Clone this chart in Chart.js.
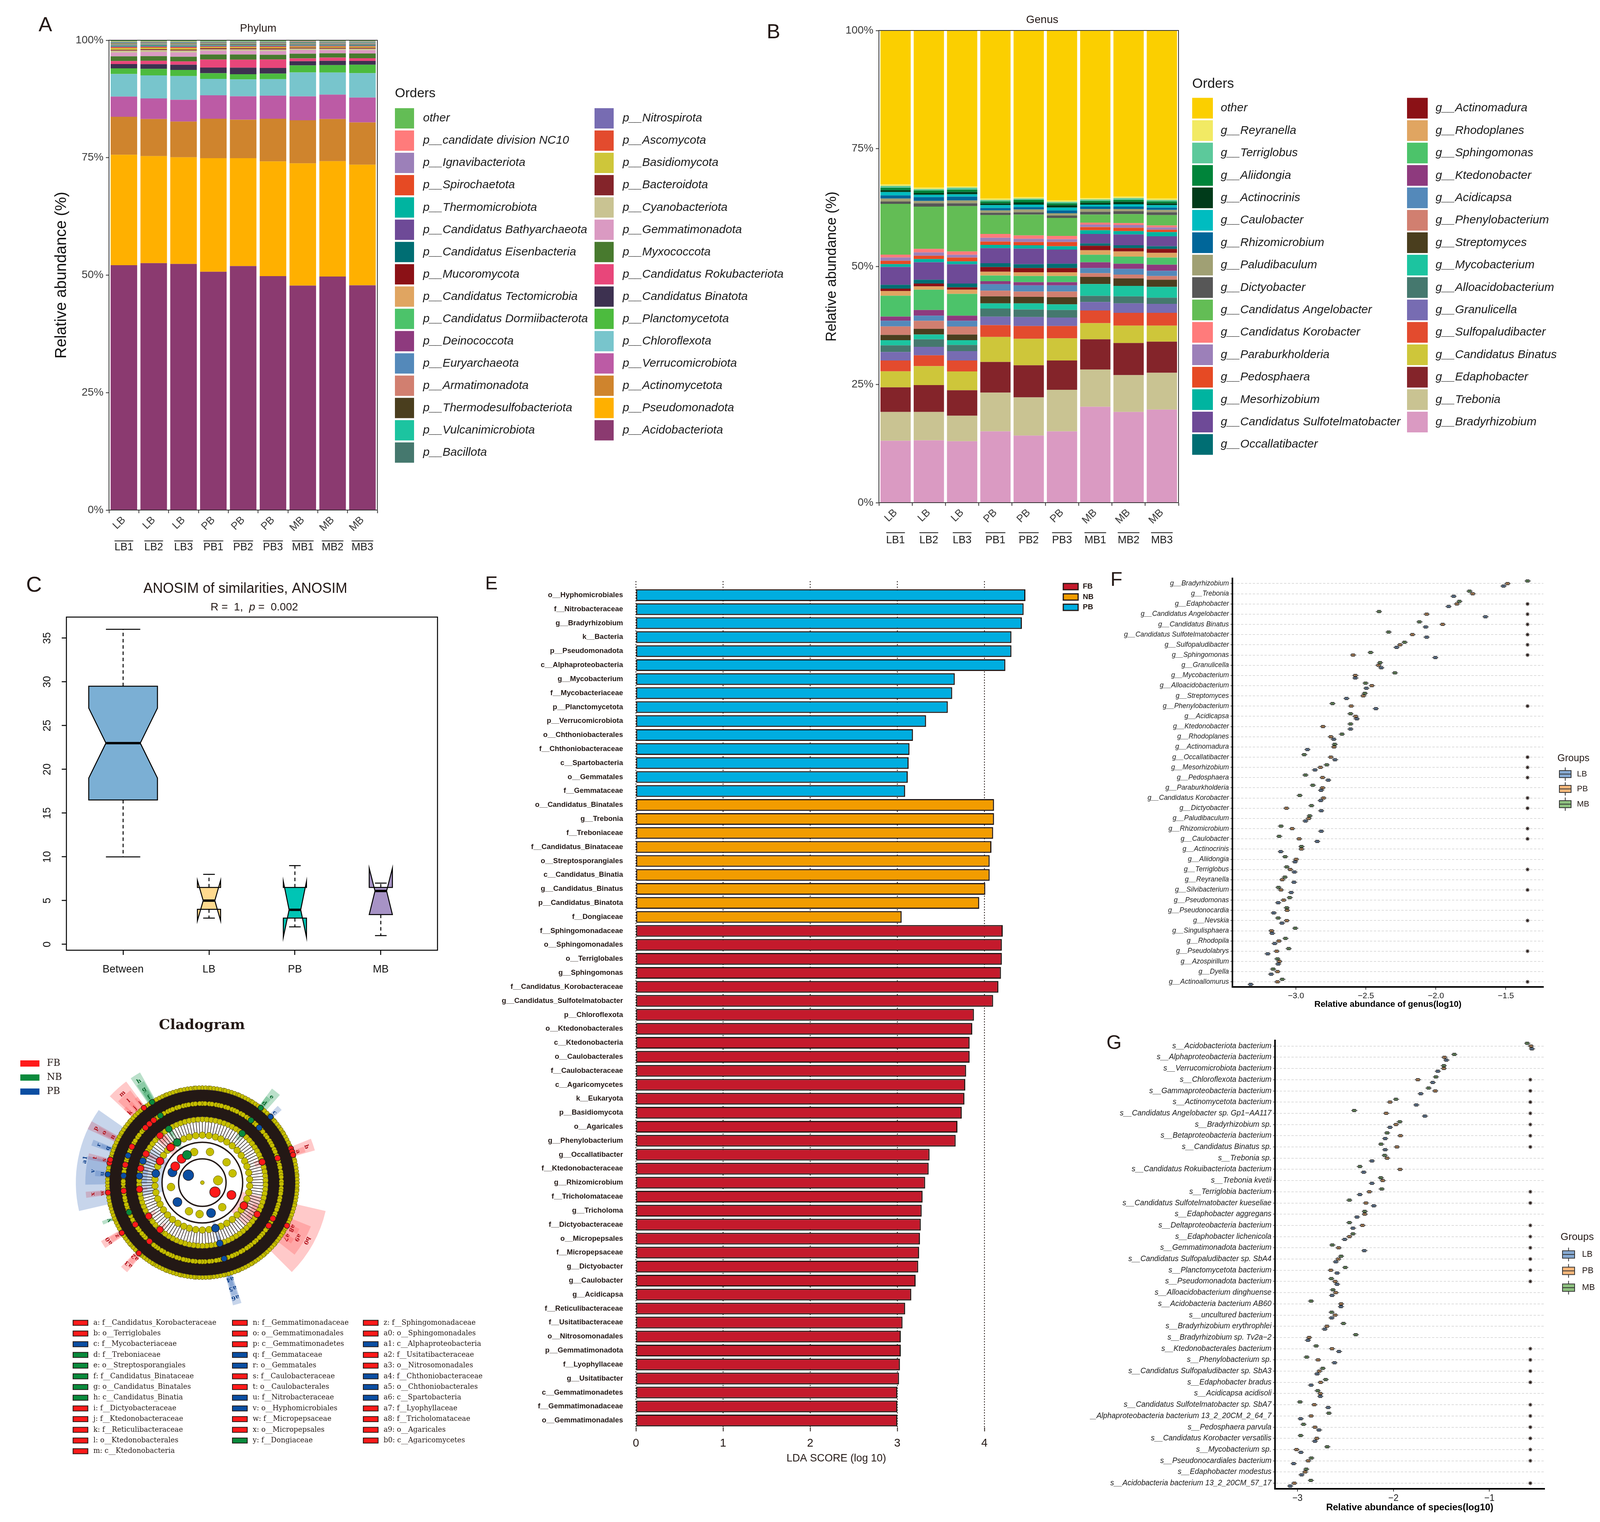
<!DOCTYPE html>
<html>
<head>
<meta charset="utf-8">
<title>Soil microbial community composition</title>
<script src="https://cdn.jsdelivr.net/npm/chart.js@4.4.1/dist/chart.umd.min.js"></script>
<style>
  html, body { margin: 0; padding: 0; background: #ffffff; }
  body { position: relative; width: 4107px; height: 3897px; overflow: hidden; }
  canvas { position: absolute; }
</style>
</head>
<body>
<canvas id="chartA" width="2060" height="1480" style="left:0px;top:0px"></canvas>
<canvas id="chartB" width="2147" height="1480" style="left:1960px;top:0px"></canvas>
<canvas id="chartC" width="1180" height="1100" style="left:0px;top:1440px"></canvas>
<canvas id="chartD" width="1230" height="1200" style="left:40px;top:2560px"></canvas>
<canvas id="chartE" width="1600" height="2320" style="left:1240px;top:1460px"></canvas>
<canvas id="chartF" width="1267" height="1200" style="left:2840px;top:1440px"></canvas>
<canvas id="chartG" width="1317" height="1277" style="left:2790px;top:2620px"></canvas>
<script>
// ---------- samples ----------
const sampleNames = ['LB1', 'LB2', 'LB3', 'PB1', 'PB2', 'PB3', 'MB1', 'MB2', 'MB3'];
const sampleGroups = ['LB', 'LB', 'LB', 'PB', 'PB', 'PB', 'MB', 'MB', 'MB'];

// ---------- A: phylum composition (legend order, top of stack first) ----------
const phylumNames = ['other', 'p__candidate division NC10', 'p__Ignavibacteriota', 'p__Spirochaetota',
  'p__Thermomicrobiota', 'p__Candidatus Bathyarchaeota', 'p__Candidatus Eisenbacteria', 'p__Mucoromycota',
  'p__Candidatus Tectomicrobia', 'p__Candidatus Dormiibacterota', 'p__Deinococcota', 'p__Euryarchaeota',
  'p__Armatimonadota', 'p__Thermodesulfobacteriota', 'p__Vulcanimicrobiota', 'p__Bacillota',
  'p__Nitrospirota', 'p__Ascomycota', 'p__Basidiomycota', 'p__Bacteroidota', 'p__Cyanobacteriota',
  'p__Gemmatimonadota', 'p__Myxococcota', 'p__Candidatus Rokubacteriota', 'p__Candidatus Binatota',
  'p__Planctomycetota', 'p__Chloroflexota', 'p__Verrucomicrobiota', 'p__Actinomycetota',
  'p__Pseudomonadota', 'p__Acidobacteriota'];
const phylumColors = ['#63BD55', '#FF7B7B', '#9C80B9', '#E64A24', '#00B4A0', '#6E4A97', '#006E73', '#8B1116',
  '#E0A561', '#4CC36A', '#8E3A7E', '#5489BA', '#D17F70', '#4A3E1E', '#1CC4A0', '#45786E', '#776CB2',
  '#E34B2E', '#CEC63A', '#84242A', '#C9C392', '#DA9AC2', '#487A2E', '#E8467A', '#3D3150', '#4CBB3E',
  '#78C5CC', '#BC5BA5', '#CF842D', '#FFB000', '#8B3A70'];
const phylumValues = [
  [0.30, 0.25, 0.30, 0.25, 0.25, 0.25, 0.20, 0.22, 0.22],
  [0.06, 0.06, 0.06, 0.05, 0.05, 0.05, 0.05, 0.05, 0.05],
  [0.04, 0.04, 0.04, 0.04, 0.04, 0.04, 0.04, 0.04, 0.04],
  [0.04, 0.04, 0.04, 0.04, 0.04, 0.04, 0.04, 0.04, 0.04],
  [0.06, 0.06, 0.06, 0.05, 0.05, 0.05, 0.05, 0.05, 0.05],
  [0.05, 0.05, 0.05, 0.04, 0.04, 0.04, 0.04, 0.04, 0.04],
  [0.07, 0.07, 0.07, 0.08, 0.08, 0.08, 0.07, 0.07, 0.07],
  [0.05, 0.05, 0.05, 0.05, 0.05, 0.05, 0.04, 0.04, 0.04],
  [0.07, 0.07, 0.07, 0.06, 0.06, 0.06, 0.06, 0.06, 0.06],
  [0.10, 0.10, 0.10, 0.08, 0.08, 0.08, 0.08, 0.08, 0.08],
  [0.05, 0.05, 0.05, 0.05, 0.05, 0.05, 0.05, 0.05, 0.05],
  [0.06, 0.06, 0.06, 0.05, 0.05, 0.05, 0.05, 0.05, 0.05],
  [0.08, 0.08, 0.08, 0.07, 0.07, 0.07, 0.08, 0.08, 0.08],
  [0.10, 0.09, 0.10, 0.12, 0.12, 0.12, 0.10, 0.10, 0.10],
  [0.10, 0.10, 0.10, 0.08, 0.08, 0.08, 0.09, 0.09, 0.09],
  [0.10, 0.10, 0.10, 0.10, 0.10, 0.10, 0.10, 0.09, 0.10],
  [0.15, 0.14, 0.15, 0.12, 0.12, 0.12, 0.10, 0.10, 0.10],
  [0.20, 0.18, 0.20, 0.15, 0.15, 0.16, 0.14, 0.15, 0.14],
  [0.35, 0.30, 0.32, 0.20, 0.22, 0.24, 0.18, 0.20, 0.20],
  [0.20, 0.22, 0.20, 0.25, 0.24, 0.25, 0.22, 0.22, 0.22],
  [0.40, 0.38, 0.42, 0.30, 0.30, 0.32, 0.30, 0.28, 0.30],
  [0.8, 0.9, 0.9, 0.8, 0.8, 0.8, 0.8, 0.7, 0.7],
  [1.0, 1.0, 1.0, 1.1, 1.1, 1.0, 1.0, 0.9, 1.0],
  [0.65, 0.7, 0.7, 1.7, 1.7, 1.8, 0.6, 0.7, 0.6],
  [0.9, 1.0, 1.1, 1.2, 1.4, 1.2, 0.9, 0.9, 0.8],
  [1.2, 1.4, 1.3, 1.2, 1.1, 1.2, 1.5, 1.6, 1.8],
  [4.8, 4.9, 5.05, 3.5, 3.6, 3.5, 5.1, 4.7, 5.2],
  [4.3, 4.4, 4.65, 5.0, 5.0, 4.9, 5.1, 5.2, 5.3],
  [8.1, 7.9, 7.6, 8.4, 8.2, 9.1, 9.2, 9.0, 9.0],
  [23.5, 22.8, 22.7, 24.2, 23.0, 24.4, 26.1, 24.6, 25.7],
  [52.1, 52.6, 52.4, 50.8, 52.0, 49.8, 47.9, 49.8, 47.9]
];

// ---------- B: genus composition (legend order, top of stack first) ----------
const genusNames = ['other', 'g__Reyranella', 'g__Terriglobus', 'g__Aliidongia', 'g__Actinocrinis',
  'g__Caulobacter', 'g__Rhizomicrobium', 'g__Paludibaculum', 'g__Dictyobacter', 'g__Candidatus Angelobacter',
  'g__Candidatus Korobacter', 'g__Paraburkholderia', 'g__Pedosphaera', 'g__Mesorhizobium',
  'g__Candidatus Sulfotelmatobacter', 'g__Occallatibacter', 'g__Actinomadura', 'g__Rhodoplanes',
  'g__Sphingomonas', 'g__Ktedonobacter', 'g__Acidicapsa', 'g__Phenylobacterium', 'g__Streptomyces',
  'g__Mycobacterium', 'g__Alloacidobacterium', 'g__Granulicella', 'g__Sulfopaludibacter',
  'g__Candidatus Binatus', 'g__Edaphobacter', 'g__Trebonia', 'g__Bradyrhizobium'];
const genusColors = ['#FBCF00', '#F2EA64', '#5CC99B', '#00843A', '#003B1A', '#00BCC0', '#006699', '#A0A074',
  '#575757', '#63BD55', '#FF7B7B', '#9C80B9', '#E64A24', '#00B4A0', '#6E4A97', '#006E73', '#8B1116',
  '#E0A561', '#4CC36A', '#8E3A7E', '#5489BA', '#D17F70', '#4A3E1E', '#1CC4A0', '#45786E', '#776CB2',
  '#E34B2E', '#CEC63A', '#84242A', '#C9C392', '#DA9AC2'];
const genusValues = [
  [32.6, 33.3, 33.0, 35.6, 35.3, 36.0, 35.5, 35.2, 35.6],
  [0.3, 0.3, 0.3, 0.3, 0.3, 0.3, 0.3, 0.3, 0.3],
  [0.4, 0.3, 0.4, 0.3, 0.3, 0.3, 0.3, 0.4, 0.3],
  [0.5, 0.5, 0.5, 0.4, 0.5, 0.4, 0.4, 0.4, 0.4],
  [0.4, 0.4, 0.5, 0.4, 0.5, 0.5, 0.4, 0.5, 0.4],
  [0.7, 0.5, 0.5, 0.6, 0.5, 0.6, 0.4, 0.5, 0.5],
  [0.7, 0.8, 0.8, 0.5, 0.5, 0.6, 0.5, 0.5, 0.5],
  [0.6, 0.5, 0.6, 0.5, 0.6, 0.5, 0.6, 0.5, 0.5],
  [0.5, 0.7, 0.6, 0.5, 0.5, 0.5, 0.6, 0.6, 0.6],
  [10.75, 8.95, 9.6, 4.0, 4.4, 3.8, 1.7, 1.9, 2.2],
  [0.6, 0.75, 0.7, 0.8, 0.7, 0.7, 0.4, 0.4, 0.4],
  [0.7, 0.7, 0.6, 0.8, 0.7, 0.6, 0.55, 0.6, 0.5],
  [0.7, 0.7, 0.8, 0.7, 0.7, 0.9, 0.65, 0.7, 0.5],
  [0.6, 0.7, 0.6, 0.7, 0.7, 0.7, 0.8, 0.7, 0.9],
  [3.8, 3.7, 4.1, 3.2, 3.3, 3.0, 2.0, 2.3, 2.1],
  [0.8, 0.8, 0.8, 0.8, 0.8, 0.9, 0.5, 0.6, 0.55],
  [0.5, 0.6, 0.5, 1.0, 0.9, 0.9, 0.95, 0.7, 0.85],
  [1.0, 0.7, 0.9, 0.8, 0.8, 0.8, 0.95, 1.1, 1.0],
  [4.4, 4.3, 4.6, 1.2, 1.3, 1.3, 1.6, 1.5, 1.5],
  [0.9, 1.2, 1.1, 0.65, 0.7, 0.7, 1.2, 1.1, 1.3],
  [1.2, 1.1, 1.2, 1.35, 1.3, 1.3, 1.1, 1.2, 1.1],
  [1.8, 1.7, 1.7, 1.2, 1.1, 1.2, 0.8, 0.8, 0.8],
  [1.1, 1.2, 1.2, 1.5, 1.4, 1.5, 1.5, 1.6, 1.5],
  [1.1, 1.0, 1.0, 1.1, 1.3, 1.2, 2.5, 2.2, 2.3],
  [1.4, 1.6, 1.3, 1.7, 1.6, 1.6, 1.3, 1.5, 1.3],
  [1.8, 1.8, 2.0, 1.8, 1.9, 1.8, 1.8, 2.0, 1.9],
  [2.3, 2.3, 2.3, 2.5, 2.7, 2.6, 2.7, 2.7, 2.7],
  [3.4, 4.0, 4.0, 5.3, 5.6, 4.7, 3.4, 3.7, 3.4],
  [5.2, 5.7, 5.4, 6.5, 6.8, 6.2, 6.4, 6.8, 6.6],
  [6.1, 6.0, 5.4, 8.2, 8.1, 8.8, 7.9, 7.8, 7.8],
  [13.1, 13.2, 13.0, 15.1, 14.2, 15.1, 20.3, 19.2, 19.7]
];

// ---------- C: ANOSIM notched boxplots ----------
const boxGroups = ['Between', 'LB', 'PB', 'MB'];
const boxMin = [10, 3, 2, 1];
const boxQ1 = [16.5, 4, 3, 3.4];
const boxMedian = [23, 5, 3.95, 6.1];
const boxQ3 = [29.5, 6.5, 6.5, 6.5];
const boxMax = [36, 8, 9, 7];
const notchLow = [19, 2.7, 0.8, 3.4];
const notchHigh = [27, 7.3, 7.2, 8.7];
const boxHalfWidth = [0.4, 0.135, 0.135, 0.135];
const boxColors = ['#7BAFD4', '#FFDA8F', '#00C5B5', '#A793C6'];

// ---------- D: LEfSe cladogram ----------
const cladeRankNames = ['root', 'kingdom', 'phylum', 'class', 'order', 'family', 'genus'];
const cladeLetters = ['a', 'b', 'c', 'd', 'e', 'f', 'g', 'h', 'i', 'j', 'k', 'l', 'm', 'n', 'o', 'p', 'q', 'r',
  's', 't', 'u', 'v', 'w', 'x', 'y', 'z', 'a0', 'a1', 'a2', 'a3', 'a4', 'a5', 'a6', 'a7', 'a8', 'a9', 'b0'];
const cladeTaxa = ['f__Candidatus_Korobacteraceae', 'o__Terriglobales', 'f__Mycobacteriaceae', 'f__Treboniaceae',
  'o__Streptosporangiales', 'f__Candidatus_Binataceae', 'o__Candidatus_Binatales', 'c__Candidatus_Binatia',
  'f__Dictyobacteraceae', 'f__Ktedonobacteraceae', 'f__Reticulibacteraceae', 'o__Ktedonobacterales',
  'c__Ktedonobacteria', 'f__Gemmatimonadaceae', 'o__Gemmatimonadales', 'c__Gemmatimonadetes', 'f__Gemmataceae',
  'o__Gemmatales', 'f__Caulobacteraceae', 'o__Caulobacterales', 'f__Nitrobacteraceae', 'o__Hyphomicrobiales',
  'f__Micropepsaceae', 'o__Micropepsales', 'f__Dongiaceae', 'f__Sphingomonadaceae', 'o__Sphingomonadales',
  'c__Alphaproteobacteria', 'f__Usitatibacteraceae', 'o__Nitrosomonadales', 'f__Chthoniobacteraceae',
  'o__Chthoniobacterales', 'c__Spartobacteria', 'f__Lyophyllaceae', 'f__Tricholomataceae', 'o__Agaricales',
  'c__Agaricomycetes'];
const cladeGroups = ['FB', 'FB', 'PB', 'NB', 'NB', 'NB', 'NB', 'NB', 'FB', 'FB', 'FB', 'FB', 'FB', 'FB', 'FB', 'FB',
  'PB', 'PB', 'FB', 'FB', 'PB', 'PB', 'FB', 'FB', 'NB', 'FB', 'FB', 'PB', 'FB', 'FB', 'PB', 'PB', 'PB', 'FB', 'FB',
  'FB', 'FB'];
const cladeRanks = [5, 4, 5, 5, 4, 5, 4, 3, 5, 5, 5, 4, 3, 5, 4, 3, 5, 4, 5, 4, 5, 4, 5, 4, 5, 5, 4, 3, 5, 4, 5, 4, 3,
  5, 5, 4, 3];
const cladeAngles = [72, 71, 46, 38, 39, 328, 328, 328, 322, 318, 314, 318, 318, 297, 297, 297, 290, 290, 283, 283,
  275, 276, 264, 264, 248, 238, 238, 281, 222, 222, 164, 164, 164, 123, 117, 120, 119];
const cladeSpans = [3, 6, 3, 3, 5, 3, 4, 5, 2, 2, 2, 8, 10, 2, 3, 4, 2, 3, 2, 3, 3, 14, 2, 3, 2, 3, 4, 48, 3, 4, 2, 3,
  4, 3, 3, 16, 32];
const extraTaxa = ['k__Bacteria', 'k__Eukaryota', 'p__Pseudomonadota', 'p__Planctomycetota', 'p__Verrucomicrobiota',
  'p__Chloroflexota', 'p__Basidiomycota', 'p__Gemmatimonadota', 'p__Candidatus_Binatota', 'g__Bradyrhizobium',
  'g__Mycobacterium', 'g__Trebonia', 'g__Candidatus_Binatus', 'g__Sphingomonas', 'g__Tricholoma',
  'g__Dictyobacter', 'g__Caulobacter', 'g__Phenylobacterium', 'g__Usitatibacter', 'g__Rhizomicrobium',
  'g__Candidatus_Sulfotelmatobacter', 'g__Acidicapsa', 'g__Occallatibacter'];
const extraGroups = ['PB', 'FB', 'PB', 'PB', 'PB', 'FB', 'FB', 'FB', 'NB', 'PB', 'PB', 'NB', 'NB', 'FB', 'FB', 'FB',
  'FB', 'FB', 'FB', 'FB', 'FB', 'FB', 'FB'];
const extraRanks = [1, 1, 2, 2, 2, 2, 2, 2, 2, 6, 6, 6, 6, 6, 6, 6, 6, 6, 6, 6, 6, 6, 6];
const extraAngles = [298, 127, 232, 289, 164, 319, 113, 301, 331, 275, 46, 38, 328, 238, 117, 322, 282, 284, 222,
  264, 73, 69, 71];
const kingdomRingAngles = [82];
const phylumRingAngles = [345, 14, 50, 73, 141, 185, 205, 262];
const ringNodeCounts = [0, 0, 0, 46, 90, 150, 200];

// ---------- E: LDA scores ----------
const ldaNames = ['o__Hyphomicrobiales', 'f__Nitrobacteraceae', 'g__Bradyrhizobium', 'k__Bacteria',
  'p__Pseudomonadota', 'c__Alphaproteobacteria', 'g__Mycobacterium', 'f__Mycobacteriaceae', 'p__Planctomycetota',
  'p__Verrucomicrobiota', 'o__Chthoniobacterales', 'f__Chthoniobacteraceae', 'c__Spartobacteria', 'o__Gemmatales',
  'f__Gemmataceae', 'o__Candidatus_Binatales', 'g__Trebonia', 'f__Treboniaceae', 'f__Candidatus_Binataceae',
  'o__Streptosporangiales', 'c__Candidatus_Binatia', 'g__Candidatus_Binatus', 'p__Candidatus_Binatota',
  'f__Dongiaceae', 'f__Sphingomonadaceae', 'o__Sphingomonadales', 'o__Terriglobales', 'g__Sphingomonas',
  'f__Candidatus_Korobacteraceae', 'g__Candidatus_Sulfotelmatobacter', 'p__Chloroflexota', 'o__Ktedonobacterales',
  'c__Ktedonobacteria', 'o__Caulobacterales', 'f__Caulobacteraceae', 'c__Agaricomycetes', 'k__Eukaryota',
  'p__Basidiomycota', 'o__Agaricales', 'g__Phenylobacterium', 'g__Occallatibacter', 'f__Ktedonobacteraceae',
  'g__Rhizomicrobium', 'f__Tricholomataceae', 'g__Tricholoma', 'f__Dictyobacteraceae', 'o__Micropepsales',
  'f__Micropepsaceae', 'g__Dictyobacter', 'g__Caulobacter', 'g__Acidicapsa', 'f__Reticulibacteraceae',
  'f__Usitatibacteraceae', 'o__Nitrosomonadales', 'p__Gemmatimonadota', 'f__Lyophyllaceae', 'g__Usitatibacter',
  'c__Gemmatimonadetes', 'f__Gemmatimonadaceae', 'o__Gemmatimonadales'];
const ldaGroups = ['PB', 'PB', 'PB', 'PB', 'PB', 'PB', 'PB', 'PB', 'PB', 'PB', 'PB', 'PB', 'PB', 'PB', 'PB',
  'NB', 'NB', 'NB', 'NB', 'NB', 'NB', 'NB', 'NB', 'NB',
  'FB', 'FB', 'FB', 'FB', 'FB', 'FB', 'FB', 'FB', 'FB', 'FB', 'FB', 'FB', 'FB', 'FB', 'FB', 'FB', 'FB', 'FB',
  'FB', 'FB', 'FB', 'FB', 'FB', 'FB', 'FB', 'FB', 'FB', 'FB', 'FB', 'FB', 'FB', 'FB', 'FB', 'FB', 'FB', 'FB'];
const ldaScores = [4.47, 4.45, 4.43, 4.31, 4.31, 4.24, 3.66, 3.63, 3.58, 3.33, 3.18, 3.14, 3.13, 3.12, 3.09,
  4.11, 4.11, 4.10, 4.08, 4.06, 4.06, 4.01, 3.94, 3.05,
  4.21, 4.20, 4.20, 4.19, 4.16, 4.10, 3.88, 3.86, 3.83, 3.83, 3.79, 3.78, 3.77, 3.74, 3.69, 3.67, 3.37, 3.36,
  3.32, 3.29, 3.28, 3.27, 3.26, 3.25, 3.24, 3.21, 3.16, 3.09, 3.06, 3.04, 3.04, 3.03, 3.02, 3.00, 3.00, 3.00];

// ---------- F: genus abundance (log10) per group ----------
const genusRowNames = ['g__Bradyrhizobium', 'g__Trebonia', 'g__Edaphobacter', 'g__Candidatus Angelobacter',
  'g__Candidatus Binatus', 'g__Candidatus Sulfotelmatobacter', 'g__Sulfopaludibacter', 'g__Sphingomonas',
  'g__Granulicella', 'g__Mycobacterium', 'g__Alloacidobacterium', 'g__Streptomyces', 'g__Phenylobacterium',
  'g__Acidicapsa', 'g__Ktedonobacter', 'g__Rhodoplanes', 'g__Actinomadura', 'g__Occallatibacter',
  'g__Mesorhizobium', 'g__Pedosphaera', 'g__Paraburkholderia', 'g__Candidatus Korobacter', 'g__Dictyobacter',
  'g__Paludibaculum', 'g__Rhizomicrobium', 'g__Caulobacter', 'g__Actinocrinis', 'g__Aliidongia', 'g__Terriglobus',
  'g__Reyranella', 'g__Silvibacterium', 'g__Pseudomonas', 'g__Pseudonocardia', 'g__Nevskia', 'g__Singulisphaera',
  'g__Rhodopila', 'g__Pseudolabrys', 'g__Azospirillum', 'g__Dyella', 'g__Actinoallomurus'];
const genusLogMB = [-1.345, -1.760, -1.832, -2.406, -2.118, -2.338, -2.224, -2.467, -2.399, -2.293, -2.503, -2.508,
  -2.739, -2.610, -2.610, -2.671, -2.723, -2.941, -2.780, -2.932, -2.880, -2.973, -2.889, -2.902, -3.107, -3.120,
  -2.961, -3.077, -3.066, -3.079, -3.125, -3.045, -3.066, -3.127, -3.005, -3.075, -3.052, -3.132, -3.163, -3.098];
const genusLogPB = [-1.488, -1.737, -1.850, -2.066, -1.952, -2.168, -2.256, -2.592, -2.410, -2.576, -2.458, -2.519,
  -2.605, -2.574, -2.807, -2.751, -2.728, -2.751, -2.825, -2.810, -2.810, -2.803, -3.068, -2.909, -3.027, -2.977,
  -2.961, -2.998, -3.041, -3.098, -3.107, -3.088, -3.063, -3.066, -3.175, -3.122, -3.138, -3.118, -3.132, -3.132];
const genusLogLB = [-1.517, -1.873, -1.909, -1.646, -2.073, -2.066, -2.281, -2.004, -2.390, -2.576, -2.497, -2.639,
  -2.429, -2.565, -2.610, -2.730, -2.918, -2.721, -2.864, -2.769, -2.821, -2.823, -2.819, -2.932, -2.819, -2.848,
  -3.109, -3.007, -3.011, -3.014, -3.034, -3.127, -3.159, -3.100, -3.170, -3.152, -3.202, -3.127, -3.177, -3.324];
const genusSignificantRows = [3, 4, 5, 6, 7, 8, 13, 18, 19, 20, 22, 23, 25, 26, 29, 31, 34, 37, 40];

// ---------- G: species abundance (log10) per group ----------
const speciesRowNames = ['s__Acidobacteriota bacterium', 's__Alphaproteobacteria bacterium',
  's__Verrucomicrobiota bacterium', 's__Chloroflexota bacterium', 's__Gammaproteobacteria bacterium',
  's__Actinomycetota bacterium', 's__Candidatus Angelobacter sp. Gp1\u2212AA117', 's__Bradyrhizobium sp.',
  's__Betaproteobacteria bacterium', 's__Candidatus Binatus sp.', 's__Trebonia sp.',
  's__Candidatus Rokuibacteriota bacterium', 's__Trebonia kvetii', 's__Terriglobia bacterium',
  's__Candidatus Sulfotelmatobacter kueseliae', 's__Edaphobacter aggregans', 's__Deltaproteobacteria bacterium',
  's__Edaphobacter lichenicola', 's__Gemmatimonadota bacterium', 's__Candidatus Sulfopaludibacter sp. SbA4',
  's__Planctomycetota bacterium', 's__Pseudomonadota bacterium', 's__Alloacidobacterium dinghuense',
  's__Acidobacteria bacterium AB60', 's__uncultured bacterium', 's__Bradyrhizobium erythrophlei',
  's__Bradyrhizobium sp. Tv2a\u22122', 's__Ktedonobacterales bacterium', 's__Phenylobacterium sp.',
  's__Candidatus Sulfopaludibacter sp. SbA3', 's__Edaphobacter bradus', 's__Acidicapsa acidisoli',
  's__Candidatus Sulfotelmatobacter sp. SbA7', 's__Alphaproteobacteria bacterium 13_2_20CM_2_64_7',
  's__Pedosphaera parvula', 's__Candidatus Korobacter versatilis', 's__Mycobacterium sp.',
  's__Pseudonocardiales bacterium', 's__Edaphobacter modestus', 's__Acidobacteria bacterium 13_2_20CM_57_17'];
const speciesLogMB = [-0.607, -1.366, -1.475, -1.558, -1.634, -1.974, -2.409, -1.934, -2.066, -2.129, -2.092, -2.350,
  -2.132, -2.122, -2.459, -2.300, -2.459, -2.422, -2.637, -2.545, -2.502, -2.647, -2.630, -2.858, -2.644, -2.521,
  -2.393, -2.805, -2.904, -2.736, -2.706, -2.789, -2.974, -2.673, -2.937, -2.967, -2.690, -2.855, -2.908, -2.861];
const speciesLogPB = [-0.568, -1.469, -1.475, -1.746, -1.564, -2.036, -2.076, -1.974, -1.927, -1.964, -2.066, -1.931,
  -2.112, -2.251, -2.287, -2.300, -2.323, -2.459, -2.571, -2.574, -2.653, -2.607, -2.601, -2.545, -2.607, -2.693,
  -2.878, -2.640, -2.785, -2.772, -2.759, -2.762, -2.825, -2.858, -2.818, -2.799, -3.010, -2.888, -2.921, -3.033];
const speciesLogLB = [-0.558, -1.449, -1.538, -1.591, -1.716, -1.762, -1.673, -2.036, -2.086, -2.086, -2.224, -2.310,
  -2.224, -2.350, -2.205, -2.380, -2.422, -2.508, -2.304, -2.601, -2.587, -2.587, -2.640, -2.548, -2.644, -2.716,
  -2.891, -2.568, -2.614, -2.795, -2.858, -2.762, -2.680, -2.967, -2.776, -2.818, -2.964, -3.040, -2.957, -3.076];
const speciesSignificantRows = [4, 5, 6, 7, 8, 9, 10, 14, 15, 17, 18, 19, 20, 21, 22, 28, 29, 30, 31, 33, 34, 35,
  36, 37, 38, 40];

// ---------- styling ----------
const ink = '#231815';
const sans = "'Liberation Sans', Arial, sans-serif";
const serif = "'DejaVu Serif', 'Liberation Serif', serif";
const groupFills = { LB: '#86A9D2', PB: '#F7B77B', MB: '#8DC07F' };
const ldaColors = { FB: '#C41A2C', NB: '#F29C00', PB: '#00ADE0' };
const cladeColors = { FB: '#FF1A1A', NB: '#0A8A3C', PB: '#0B4EA2' };
const cladeShades = { FB: 'rgba(255,105,105,0.36)', NB: 'rgba(40,160,90,0.32)', PB: 'rgba(70,115,190,0.30)' };
const cladeTextColors = { FB: '#B3121B', NB: '#0A6B30', PB: '#0D3F8A' };

Chart.defaults.font.family = sans;
Chart.defaults.color = ink;
Chart.defaults.animation = false;
Chart.defaults.plugins.legend.display = false;
Chart.defaults.plugins.tooltip.enabled = false;

function fixedWidth(w) { return scale => { scale.width = w; }; }
function fixedHeight(h) { return scale => { scale.height = h; }; }
function setTicks(values) { return scale => { scale.ticks = values.map(v => ({ value: v })); }; }
function line(ctx, x1, y1, x2, y2) { ctx.beginPath(); ctx.moveTo(x1, y1); ctx.lineTo(x2, y2); ctx.stroke(); }

// free text (titles, panel letters)
function textLayer(items) {
  return {
    id: 'textLayer',
    afterDraw(chart) {
      const ctx = chart.ctx;
      items.forEach(t => {
        ctx.save();
        ctx.fillStyle = t.color || ink;
        ctx.textBaseline = 'middle';
        ctx.textAlign = 'left';
        ctx.translate(t.x, t.y);
        if (t.rotate) ctx.rotate(t.rotate * Math.PI / 180);
        const runs = t.runs || [{ text: t.text, font: t.font }];
        let width = 0;
        runs.forEach(r => { ctx.font = r.font; width += ctx.measureText(r.text).width; });
        let x = t.align === 'left' ? 0 : -width / 2;
        runs.forEach(r => { ctx.font = r.font; ctx.fillText(r.text, x, 0); x += ctx.measureText(r.text).width; });
        ctx.restore();
      });
    }
  };
}

function frame(color, width) {
  return {
    id: 'frame',
    afterDatasetsDraw(chart) {
      const { ctx, chartArea: a } = chart;
      ctx.save();
      ctx.strokeStyle = color; ctx.lineWidth = width;
      ctx.strokeRect(a.left, a.top, a.right - a.left, a.bottom - a.top);
      ctx.restore();
    }
  };
}

// second row of sample names under the rotated group labels
function sampleRow(rowY, lineY) {
  return {
    id: 'sampleRow',
    afterDraw(chart) {
      const { ctx, scales: { x } } = chart;
      ctx.save();
      ctx.font = `27px ${sans}`;
      ctx.fillStyle = '#1a1a1a'; ctx.strokeStyle = '#1a1a1a'; ctx.lineWidth = 2;
      ctx.textAlign = 'center'; ctx.textBaseline = 'middle';
      sampleNames.forEach((name, i) => {
        const px = x.getPixelForValue(i);
        const w = ctx.measureText(name).width;
        ctx.fillText(name, px, rowY);
        line(ctx, px - w / 2, lineY, px + w / 2, lineY);
      });
      ctx.restore();
    }
  };
}

// two-column swatch legend built from the datasets
function swatchLegend(o) {
  return {
    id: 'swatchLegend',
    afterDraw(chart) {
      const ctx = chart.ctx;
      const items = chart.data.datasets.slice().reverse();
      ctx.save();
      ctx.textAlign = 'left'; ctx.textBaseline = 'middle';
      ctx.fillStyle = '#1a1a1a'; ctx.font = o.titleFont;
      ctx.fillText(o.title, o.colX[0], o.titleY);
      ctx.font = o.font;
      items.forEach((ds, i) => {
        const col = Math.floor(i / o.perCol), row = i % o.perCol;
        const x = o.colX[col], y = o.top + row * o.step;
        ctx.fillStyle = ds.backgroundColor;
        ctx.fillRect(x, y - o.box[1] / 2, o.box[0], o.box[1]);
        ctx.fillStyle = '#1a1a1a';
        ctx.fillText(ds.label, x + o.textGap, y);
      });
      ctx.restore();
    }
  };
}

function stackedPercentChart(id, names, colors, values, cfg) {
  const totals = sampleNames.map((_, j) => values.reduce((s, row) => s + row[j], 0));
  const datasets = names.map((name, i) => ({
    label: name,
    data: values[i].map((v, j) => v / totals[j] * 100),
    backgroundColor: colors[i],
    borderWidth: 0,
    barPercentage: cfg.barPct,
    categoryPercentage: 1
  })).reverse();
  return new Chart(document.getElementById(id), {
    type: 'bar',
    data: { labels: sampleNames, datasets },
    options: {
      responsive: false, devicePixelRatio: 1, animation: false,
      layout: { padding: cfg.padding },
      scales: {
        x: {
          stacked: true, afterFit: fixedHeight(100),
          grid: { drawOnChartArea: false, tickLength: 8, tickColor: '#333', tickWidth: 2 },
          border: { color: '#333', width: 2 },
          ticks: { callback: (v, i) => sampleGroups[i], minRotation: 45, maxRotation: 45,
            font: { size: 27 }, color: '#3a3a3a', padding: 2 }
        },
        y: {
          stacked: true, min: 0, max: 100, afterFit: fixedWidth(cfg.yWidth),
          ticks: { stepSize: 25, callback: v => v + '%', font: { size: 28 }, color: '#3a3a3a', padding: 6 },
          grid: { drawOnChartArea: false, tickLength: 8, tickColor: '#333', tickWidth: 2 },
          border: { color: '#333', width: 2 },
          title: { display: true, text: 'Relative abundance (%)', font: { size: cfg.yTitleSize }, color: '#111',
            padding: { top: cfg.yTitlePad, bottom: 0 } }
        }
      }
    },
    plugins: [frame('#333', 2), sampleRow(cfg.rowY, cfg.lineY), swatchLegend(cfg.legend), textLayer(cfg.texts)]
  });
}

// ---------- A ----------
stackedPercentChart('chartA', phylumNames, phylumColors, phylumValues, {
  barPct: 0.89, yWidth: 180, yTitleSize: 40, yTitlePad: 35, rowY: 1402, lineY: 1385,
  padding: { left: 99, right: 1094, top: 103, bottom: 74 },
  legend: { colX: [1011, 1522], textGap: 72, top: 303, step: 57.05, perCol: 16, box: [49, 52],
    font: `italic 30px ${sans}`, title: 'Orders', titleY: 240, titleFont: `34px ${sans}` },
  texts: [{ text: 'A', x: 116, y: 66, font: `52px ${sans}` }, { text: 'Phylum', x: 661, y: 73, font: `28px ${sans}` }]
});

// ---------- B ----------
stackedPercentChart('chartB', genusNames, genusColors, genusValues, {
  barPct: 0.91, yWidth: 170, yTitleSize: 36, yTitlePad: 28, rowY: 1384, lineY: 1364,
  padding: { left: 120, right: 1090, top: 78, bottom: 93 },
  legend: { colX: [1092, 1642], textGap: 73, top: 277, step: 57.4, perCol: 16, box: [53, 53],
    font: `italic 30px ${sans}`, title: 'Orders', titleY: 215, titleFont: `35px ${sans}` },
  texts: [{ text: 'B', x: 20, y: 84, font: `52px ${sans}` }, { text: 'Genus', x: 708, y: 51, font: `28px ${sans}` }]
});

// ---------- C ----------
const notchedBoxes = {
  id: 'notchedBoxes',
  afterDatasetsDraw(chart) {
    const { ctx, scales: { x, y }, chartArea: a } = chart;
    const Y = v => y.getPixelForValue(v);
    ctx.save();
    ctx.strokeStyle = '#000';
    boxGroups.forEach((g, i) => {
      const cx = x.getPixelForValue(i + 1);
      const w = x.getPixelForValue(i + 1 + boxHalfWidth[i]) - cx;
      ctx.lineWidth = 2.5;
      ctx.setLineDash([9, 7]);
      line(ctx, cx, Y(boxQ3[i]), cx, Y(boxMax[i]));
      line(ctx, cx, Y(boxQ1[i]), cx, Y(boxMin[i]));
      ctx.setLineDash([]);
      line(ctx, cx - w / 2, Y(boxMax[i]), cx + w / 2, Y(boxMax[i]));
      line(ctx, cx - w / 2, Y(boxMin[i]), cx + w / 2, Y(boxMin[i]));
      ctx.beginPath();
      ctx.moveTo(cx - w, Y(boxQ1[i]));
      ctx.lineTo(cx - w, Y(notchLow[i]));
      ctx.lineTo(cx - w / 2, Y(boxMedian[i]));
      ctx.lineTo(cx - w, Y(notchHigh[i]));
      ctx.lineTo(cx - w, Y(boxQ3[i]));
      ctx.lineTo(cx + w, Y(boxQ3[i]));
      ctx.lineTo(cx + w, Y(notchHigh[i]));
      ctx.lineTo(cx + w / 2, Y(boxMedian[i]));
      ctx.lineTo(cx + w, Y(notchLow[i]));
      ctx.lineTo(cx + w, Y(boxQ1[i]));
      ctx.closePath();
      ctx.fillStyle = boxColors[i];
      ctx.fill();
      ctx.stroke();
      ctx.lineWidth = 6;
      line(ctx, cx - w / 2, Y(boxMedian[i]), cx + w / 2, Y(boxMedian[i]));
    });
    ctx.lineWidth = 2.5;
    ctx.strokeRect(a.left, a.top, a.right - a.left, a.bottom - a.top);
    // rotated y tick labels, R style
    ctx.fillStyle = '#111';
    ctx.font = `27px ${sans}`;
    ctx.textAlign = 'center'; ctx.textBaseline = 'middle';
    y.ticks.forEach(t => {
      ctx.save();
      ctx.translate(122, Y(t.value));
      ctx.rotate(-Math.PI / 2);
      ctx.fillText(String(t.value), 0, 0);
      ctx.restore();
    });
    ctx.restore();
  }
};

new Chart(document.getElementById('chartC'), {
  type: 'scatter',
  data: { datasets: [{ label: 'median', data: boxGroups.map((g, i) => ({ x: i + 1, y: boxMedian[i] })), pointRadius: 0 }] },
  options: {
    responsive: false, devicePixelRatio: 1, animation: false,
    layout: { padding: { left: 0, right: 60, top: 140, bottom: 27 } },
    scales: {
      x: {
        type: 'linear', min: 0.34, max: 4.66, afterBuildTicks: setTicks([1, 2, 3, 4]), afterFit: fixedHeight(80),
        ticks: { callback: v => boxGroups[v - 1], font: { size: 27 }, color: '#111', padding: 21 },
        grid: { drawOnChartArea: false, tickLength: 12, tickColor: '#000', tickWidth: 2.5 },
        border: { display: false }
      },
      y: {
        type: 'linear', min: -0.67, max: 37.4, afterBuildTicks: setTicks([0, 5, 10, 15, 20, 25, 30, 35]),
        afterFit: fixedWidth(170),
        ticks: { color: 'rgba(0,0,0,0)', font: { size: 27 } },
        grid: { drawOnChartArea: false, tickLength: 12, tickColor: '#000', tickWidth: 2.5 },
        border: { display: false }
      }
    }
  },
  plugins: [notchedBoxes, textLayer([
    { text: 'C', x: 87, y: 60, font: `56px ${sans}` },
    { text: 'ANOSIM of similarities, ANOSIM', x: 628, y: 68, font: `36px ${sans}` },
    { x: 651, y: 115, runs: [
      { text: 'R =  1,  ', font: `28px ${sans}` },
      { text: 'p', font: `italic 28px ${sans}` },
      { text: ' =  0.002', font: `28px ${sans}` }] }
  ])]
});

// ---------- D ----------
const slotCount = 360;
const nodeRadius = [5, 12, 10, 8.5, 7, 6, 5.5];
const yellowNode = '#C6BF00';
const cladeDatasets = [];
nodeRadius.forEach((size, lvl) => {
  const data = new Array(slotCount).fill(null);
  if (lvl === 0) data[0] = 0;
  if (lvl === 1) kingdomRingAngles.forEach(a => { data[a] = 1; });
  if (lvl === 2) phylumRingAngles.forEach(a => { data[a] = 2; });
  if (ringNodeCounts[lvl] > 0) {
    const n = ringNodeCounts[lvl];
    for (let k = 0; k < n; k++) data[Math.round(k * slotCount / n) % slotCount] = lvl;
  }
  cladeDatasets.push({
    label: cladeRankNames[lvl], data, showLine: false, fill: false, borderWidth: 0,
    pointBackgroundColor: yellowNode, pointBorderColor: '#5a5200', pointBorderWidth: 1, pointRadius: size, order: 2
  });
  const sig = new Array(slotCount).fill(null);
  const sigColors = new Array(slotCount).fill(ink);
  const mark = (rank, angle, group) => {
    if (rank !== lvl) return;
    const s = Math.round(angle) % slotCount;
    sig[s] = lvl;
    sigColors[s] = cladeColors[group];
  };
  cladeRanks.forEach((r, i) => mark(r, cladeAngles[i], cladeGroups[i]));
  extraRanks.forEach((r, i) => mark(r, extraAngles[i], extraGroups[i]));
  cladeDatasets.push({
    label: cladeRankNames[lvl] + ' (biomarker)', data: sig, showLine: false, fill: false, borderWidth: 0,
    pointBackgroundColor: sigColors, pointBorderColor: ink, pointBorderWidth: 1.3, pointRadius: size + 1.5, order: 1
  });
});

const labelRadius = rank => 6.35 + (5 - rank) * 0.6;

const cladeDecor = {
  id: 'cladeDecor',
  beforeDatasetsDraw(chart) {
    const sc = chart.scales.r, ctx = chart.ctx;
    const cx = sc.xCenter, cy = sc.yCenter;
    const R = v => sc.getDistanceFromCenterForValue(v);
    const ang = a => sc.getIndexAngle(a) - Math.PI / 2;
    ctx.save();
    cladeLetters.forEach((letter, i) => {
      const a0 = ang(cladeAngles[i] - cladeSpans[i] / 2);
      const a1 = a0 + cladeSpans[i] * Math.PI / 180;
      ctx.beginPath();
      ctx.arc(cx, cy, R(labelRadius(cladeRanks[i]) + 0.45), a0, a1);
      ctx.arc(cx, cy, R(cladeRanks[i] - 0.5), a1, a0, true);
      ctx.closePath();
      ctx.fillStyle = cladeShades[cladeGroups[i]];
      ctx.fill();
    });
    // dense branch thicket of the outer ranks
    ctx.fillStyle = ink;
    ctx.beginPath();
    ctx.arc(cx, cy, R(5.88), 0, Math.PI * 2);
    ctx.arc(cx, cy, R(4.15), 0, Math.PI * 2, true);
    ctx.fill();
    ctx.strokeStyle = ink;
    ctx.lineWidth = 1.5;
    for (let a = 0; a < 360; a += 3) {
      const t = ang(a);
      line(ctx, cx + R(3.1) * Math.cos(t), cy + R(3.1) * Math.sin(t), cx + R(4.2) * Math.cos(t), cy + R(4.2) * Math.sin(t));
    }
    ctx.lineWidth = 3.5;
    [1.5, 2.55, 3.05].forEach(v => { ctx.beginPath(); ctx.arc(cx, cy, R(v), 0, Math.PI * 2); ctx.stroke(); });
    ctx.restore();
  },
  afterDatasetsDraw(chart) {
    const sc = chart.scales.r, ctx = chart.ctx;
    ctx.save();
    ctx.font = `bold 15px ${serif}`;
    ctx.textAlign = 'center'; ctx.textBaseline = 'middle';
    cladeLetters.forEach((letter, i) => {
      const p = sc.getPointPositionForValue(cladeAngles[i], labelRadius(cladeRanks[i]));
      ctx.save();
      ctx.translate(p.x, p.y);
      ctx.rotate(cladeAngles[i] * Math.PI / 180);
      ctx.fillStyle = cladeTextColors[cladeGroups[i]];
      ctx.fillText(letter, 0, 0);
      ctx.restore();
    });
    ctx.restore();
  },
  afterDraw(chart) {
    const ctx = chart.ctx;
    ctx.save();
    ctx.fillStyle = ink; ctx.textBaseline = 'middle'; ctx.textAlign = 'center';
    ctx.font = `bold 36px ${serif}`;
    ctx.fillText('Cladogram', 477, 66);
    ctx.textAlign = 'left';
    ctx.font = `24px ${serif}`;
    ['FB', 'NB', 'PB'].forEach((g, i) => {
      const y = 163 + i * 36;
      ctx.fillStyle = cladeColors[g];
      ctx.fillRect(12, y - 8, 49, 16);
      ctx.fillStyle = ink;
      ctx.fillText(g, 80, y);
    });
    const colX = [147, 555, 890];
    ctx.font = `18px ${serif}`;
    cladeLetters.forEach((letter, i) => {
      const col = i < 13 ? 0 : (i < 25 ? 1 : 2);
      const row = i < 13 ? i : (i < 25 ? i - 13 : i - 25);
      const x = colX[col], y = 827 + row * 27.4;
      ctx.fillStyle = cladeColors[cladeGroups[i]];
      ctx.fillRect(x, y - 6.5, 38, 13);
      ctx.strokeStyle = ink; ctx.lineWidth = 2;
      ctx.strokeRect(x, y - 6.5, 38, 13);
      ctx.fillStyle = ink;
      ctx.fillText(letter + ': ' + cladeTaxa[i], x + 52, y);
    });
    ctx.restore();
  }
};

new Chart(document.getElementById('chartD'), {
  type: 'radar',
  data: { labels: new Array(slotCount).fill(''), datasets: cladeDatasets },
  options: {
    responsive: false, devicePixelRatio: 1, animation: false,
    layout: { padding: { left: 148, top: 138, right: 422, bottom: 402 } },
    scales: {
      r: {
        min: 0, max: 8.15, beginAtZero: true,
        ticks: { display: false }, grid: { display: false }, angleLines: { display: false },
        pointLabels: { display: false }
      }
    }
  },
  plugins: [cladeDecor]
});

// ---------- E ----------
const dottedGuides = {
  id: 'dottedGuides',
  beforeDatasetsDraw(chart) {
    const { ctx, scales: { x }, chartArea: a } = chart;
    ctx.save();
    ctx.strokeStyle = ink; ctx.lineWidth = 2; ctx.setLineDash([3, 4]);
    [0, 1, 2, 3, 4].forEach(v => {
      const px = x.getPixelForValue(v);
      line(ctx, px, a.top - 18, px, a.bottom + 4);
    });
    ctx.restore();
  }
};
const ldaLegend = {
  id: 'ldaLegend',
  afterDraw(chart) {
    const ctx = chart.ctx;
    ctx.save();
    ctx.font = `bold 19px ${sans}`;
    ctx.textAlign = 'left'; ctx.textBaseline = 'middle';
    ['FB', 'NB', 'PB'].forEach((g, i) => {
      const y = 42 + i * 26.5;
      ctx.fillStyle = ldaColors[g];
      ctx.fillRect(1482, y - 8, 38, 16);
      ctx.strokeStyle = ink; ctx.lineWidth = 3;
      ctx.strokeRect(1482, y - 8, 38, 16);
      ctx.fillStyle = ink;
      ctx.fillText(g, 1532, y);
    });
    ctx.restore();
  }
};

new Chart(document.getElementById('chartE'), {
  type: 'bar',
  data: {
    labels: ldaNames,
    datasets: [{
      label: 'LDA score', data: ldaScores,
      backgroundColor: ldaGroups.map(g => ldaColors[g]),
      borderColor: ink, borderWidth: 3, borderSkipped: false,
      barPercentage: 0.84, categoryPercentage: 1
    }]
  },
  options: {
    indexAxis: 'y', responsive: false, devicePixelRatio: 1, animation: false,
    layout: { padding: { left: 0, right: 186, top: 46, bottom: 25 } },
    scales: {
      x: {
        type: 'linear', min: 0, max: 4.6, afterBuildTicks: setTicks([0, 1, 2, 3, 4]), afterFit: fixedHeight(100),
        grid: { drawOnChartArea: false, tickLength: 10, tickColor: ink, tickWidth: 2 },
        border: { display: false },
        ticks: { font: { size: 29 }, color: ink, padding: 14 },
        title: { display: true, text: 'LDA SCORE (log 10)', font: { size: 27 }, color: ink,
          padding: { top: 0, bottom: 4 } }
      },
      y: {
        afterFit: fixedWidth(388), grid: { display: false }, border: { display: false },
        ticks: { autoSkip: false, font: { size: 18.5, weight: 'bold' }, color: ink, padding: 25 }
      }
    }
  },
  plugins: [dottedGuides, ldaLegend, textLayer([{ text: 'E', x: 18, y: 36, font: `48px ${sans}` }])]
});

// ---------- F & G ----------
function boxGlyph(fill) {
  const c = document.createElement('canvas');
  c.width = 16; c.height = 9;
  const g = c.getContext('2d');
  g.strokeStyle = '#111'; g.lineWidth = 1.5;
  line(g, 0, 4.5, 16, 4.5);
  g.fillStyle = fill;
  g.fillRect(4, 1.5, 8, 6);
  g.strokeRect(4, 1.5, 8, 6);
  line(g, 8, 1.5, 8, 7.5);
  return c;
}

function groupKey(o) {
  return {
    id: 'groupKey',
    afterDraw(chart) {
      const ctx = chart.ctx;
      ctx.save();
      ctx.textAlign = 'left'; ctx.textBaseline = 'middle';
      ctx.fillStyle = ink; ctx.font = o.titleFont;
      ctx.fillText('Groups', o.titleX, o.titleY);
      ['LB', 'PB', 'MB'].forEach((g, i) => {
        const y = o.rows[i], cx = o.x + o.w / 2;
        ctx.strokeStyle = '#333'; ctx.lineWidth = 2;
        line(ctx, cx, y - o.h / 2 - 8, cx, y + o.h / 2 + 8);
        ctx.fillStyle = groupFills[g];
        ctx.fillRect(o.x, y - o.h / 2, o.w, o.h);
        ctx.strokeRect(o.x, y - o.h / 2, o.w, o.h);
        line(ctx, o.x, y, o.x + o.w, y);
        ctx.fillStyle = ink; ctx.font = o.font;
        ctx.fillText(g, o.textX, y);
      });
      ctx.restore();
    }
  };
}

function dotPanel(id, names, valuesMB, valuesPB, valuesLB, starRows, cfg) {
  const dodge = { LB: 0.25, PB: 0, MB: -0.25 };
  const series = { LB: valuesLB, PB: valuesPB, MB: valuesMB };
  const datasets = ['LB', 'PB', 'MB'].map(g => ({
    label: g,
    data: series[g].map((v, i) => ({ x: v, y: i + dodge[g] })),
    pointStyle: boxGlyph(groupFills[g]),
    pointRadius: 6
  }));
  datasets.push({
    label: 'significant', data: starRows.map(r => ({ x: cfg.starX, y: r - 1 })),
    pointStyle: 'star', pointRadius: 5, pointBorderColor: ink, pointBorderWidth: 1.6, borderColor: ink
  });
  return new Chart(document.getElementById(id), {
    type: 'scatter',
    data: { datasets },
    options: {
      responsive: false, devicePixelRatio: 1, animation: false,
      layout: { padding: cfg.padding },
      scales: {
        x: {
          type: 'linear', min: cfg.xMin, max: cfg.xMax, afterBuildTicks: setTicks(cfg.xTicks), afterFit: fixedHeight(80),
          ticks: { callback: v => (v < 0 ? '\u2212' : '') + Math.abs(v).toFixed(cfg.decimals),
            font: { size: cfg.tickSize }, color: '#1a1a1a', padding: 4 },
          grid: { drawOnChartArea: false, tickLength: 7, tickColor: '#000', tickWidth: 1.5 },
          border: { color: '#000', width: 4 },
          title: { display: true, text: cfg.xTitle, font: { size: cfg.titleSize, weight: 'bold' }, color: '#000',
            padding: { top: 0, bottom: cfg.titlePad } }
        },
        y: {
          type: 'linear', reverse: true, min: -0.5, max: names.length - 0.5,
          afterBuildTicks: setTicks(names.map((_, i) => i)), afterFit: fixedWidth(cfg.yWidth),
          ticks: { autoSkip: false, callback: v => names[v],
            font: { size: cfg.labelSize, style: 'italic' }, color: '#1a1a1a', padding: 4 },
          grid: { color: '#C9C9C9', lineWidth: 1.2, tickColor: '#333', tickLength: 5, tickWidth: 1.5 },
          border: { color: '#000', width: 4, dash: [6, 4] }
        }
      }
    },
    plugins: [groupKey(cfg.key), textLayer([{ text: cfg.letter, x: cfg.letterX, y: cfg.letterY, font: `50px ${sans}` }])]
  });
}

dotPanel('chartF', genusRowNames, genusLogMB, genusLogPB, genusLogLB, genusSignificantRows, {
  padding: { left: 0, right: 156, top: 41, bottom: 33 }, yWidth: 315,
  xMin: -3.454, xMax: -1.232, xTicks: [-3, -2.5, -2, -1.5], decimals: 1, starX: -1.345,
  tickSize: 21, labelSize: 17.5, titleSize: 22, titlePad: 22,
  xTitle: 'Relative abundance of genus(log10)',
  letter: 'F', letterX: 18, letterY: 46,
  key: { titleX: 1147, titleY: 502, x: 1152, w: 30, h: 18, rows: [542, 580, 619], textX: 1197,
    titleFont: `25px ${sans}`, font: `21px ${sans}` }
});

dotPanel('chartG', speciesRowNames, speciesLogMB, speciesLogPB, speciesLogLB, speciesSignificantRows, {
  padding: { left: 0, right: 153, top: 44, bottom: 5 }, yWidth: 474,
  xMin: -3.234, xMax: -0.426, xTicks: [-3, -2, -1], decimals: 0, starX: -0.574,
  tickSize: 23, labelSize: 19.3, titleSize: 24, titlePad: 17,
  xTitle: 'Relative abundance of species(log10)',
  letter: 'G', letterX: 62, letterY: 52,
  key: { titleX: 1205, titleY: 548, x: 1210, w: 31, h: 19, rows: [592, 634, 677], textX: 1260,
    titleFont: `26px ${sans}`, font: `22px ${sans}` }
});
</script>
</body>
</html>
